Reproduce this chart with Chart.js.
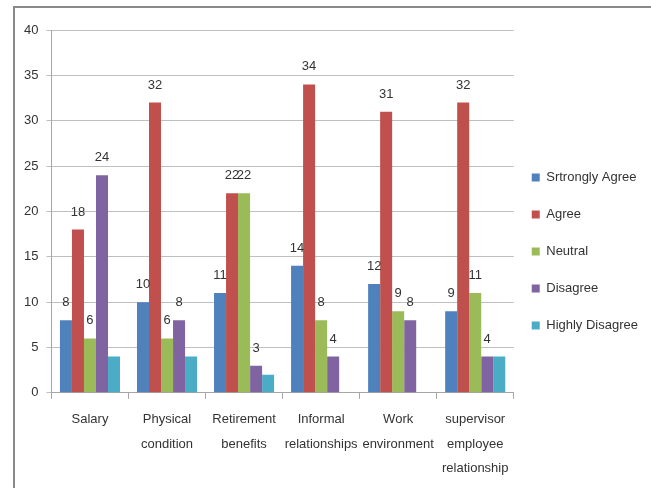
<!DOCTYPE html>
<html>
<head>
<meta charset="utf-8">
<script src="https://cdn.jsdelivr.net/npm/chart.js@4.4.0/dist/chart.umd.min.js"></script>
<style>
  html, body { margin: 0; padding: 0; background: #fff; }
  #wrap { position: relative; width: 651px; height: 488px; overflow: hidden; }
  #frame { position: absolute; left: 13px; top: 6px; width: 700px; height: 600px;
           border-left: 2px solid #8a8a8a; border-top: 2px solid #8a8a8a; }
  #chart-box { position: absolute; left: 0; top: 0; width: 654px; height: 489px; }
</style>
</head>
<body>
<div id="wrap">
  <div id="frame"></div>
  <div id="chart-box"><canvas id="chart"></canvas></div>
</div>
<script>
'use strict';

// ── Data ───────────────────────────────────────────────────
const categories = [
    'Salary',
    ['Physical', 'condition'],
    ['Retirement', 'benefits'],
    ['Informal', 'relationships'],
    ['Work', 'environment'],
    ['supervisor', 'employee', 'relationship'],
];
const stronglyAgree  = [8, 10, 11, 14, 12, 9];
const agree          = [18, 32, 22, 34, 31, 32];
const neutral        = [6, 6, 22, 8, 9, 11];
const disagree       = [24, 8, 3, 4, 8, 4];
const highlyDisagree = [4, 4, 2, 0, 0, 4];
const yTicks = [0, 5, 10, 15, 20, 25, 30, 35, 40];

const FONT = "'Liberation Sans', Arial, sans-serif";
const TEXT = '#333333';

// ── Value labels above bars (first four series only) ──────
const valueLabels = {
    id: 'valueLabels',
    afterDatasetsDraw(chart) {
        const ctx = chart.ctx;
        ctx.save();
        ctx.font = `13px ${FONT}`;
        ctx.fillStyle = TEXT;
        ctx.textAlign = 'center';
        ctx.textBaseline = 'alphabetic';
        chart.data.datasets.forEach((ds, i) => {
            if (!ds.showValues) return;
            chart.getDatasetMeta(i).data.forEach((bar, j) => {
                const v = ds.data[j];
                if (!v) return;
                ctx.fillText(String(v), bar.x, bar.y - 14);
            });
        });
        ctx.restore();
    },
};

// nudge the legend block a little up and to the left, like the original
const legendNudge = {
    id: 'legendNudge',
    afterLayout(chart) {
        const l = chart.legend;
        if (!l) return;
        l.left -= 6; l.right -= 6;
        l.top -= 8; l.bottom -= 8;
    },
};

const mk = (label, data, color, showValues) => ({
    label, data, showValues,
    backgroundColor: color,
    borderWidth: 0,
    barPercentage: 1.0,
    categoryPercentage: 0.78,
});

new Chart(document.getElementById('chart'), {
    type: 'bar',
    data: {
        labels: categories,
        datasets: [
            mk('Srtrongly Agree', stronglyAgree, '#4F81BD', true),
            mk('Agree', agree, '#C0504D', true),
            mk('Neutral', neutral, '#9BBB59', true),
            mk('Disagree', disagree, '#8064A2', true),
            mk('Highly Disagree', highlyDisagree, '#4BACC6', false),
        ],
    },
    options: {
        responsive: true,
        maintainAspectRatio: false,
        animation: false,
        layout: { padding: { left: 16, top: 30, right: 0, bottom: 0 } },
        scales: {
            x: {
                grid: { drawOnChartArea: false, drawTicks: true, tickLength: 6, color: '#a6a6a6', offset: true },
                border: { color: '#a6a6a6' },
                ticks: {
                    color: TEXT, font: { family: FONT, size: 13, lineHeight: 1.85 },
                    maxRotation: 0, autoSkip: false, padding: 9,
                },
            },
            y: {
                min: 0, max: 40,
                afterBuildTicks: (axis) => { axis.ticks = yTicks.map(v => ({ value: v })); },
                grid: { color: '#bfbfbf', tickLength: 5 },
                border: { color: '#a6a6a6' },
                ticks: { color: TEXT, font: { family: FONT, size: 13 }, padding: 8 },
            },
        },
        plugins: {
            legend: {
                position: 'right',
                labels: {
                    boxWidth: 8, boxHeight: 8, padding: 24,
                    color: TEXT, font: { family: FONT, size: 13 },
                },
            },
            tooltip: { enabled: false },
        },
    },
    plugins: [legendNudge, valueLabels],
});
</script>
</body>
</html>
